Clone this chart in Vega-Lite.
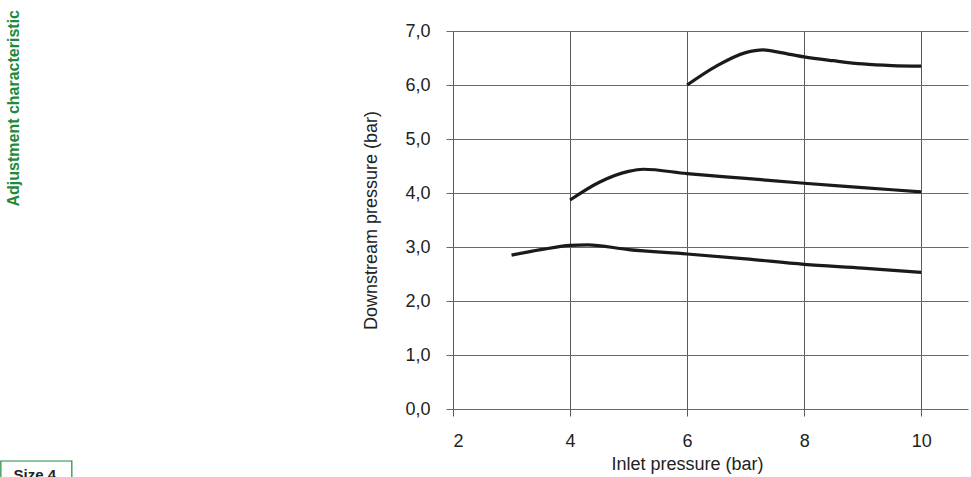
{
  "$schema": "https://vega.github.io/schema/vega-lite/v6.json",
  "autosize": "none",
  "width": 515,
  "height": 378,
  "padding": {"left": 453, "top": 31, "right": 3, "bottom": 68},
  "background": "white",
  "config": {
    "font": "Liberation Sans",
    "view": {"stroke": null}
  },
  "title": {
    "text": "Adjustment characteristic",
    "orient": "left",
    "anchor": "end",
    "frame": "group",
    "offset": -22,
    "dx": 21,
    "fontSize": 16,
    "fontWeight": "bold",
    "color": "#1e8a3c",
    "font": "Liberation Sans"
  },
  "data": {
    "values": [
      {"inlet": 3.0, "downstream": 2.85, "setting": "low"},
      {"inlet": 3.5, "downstream": 2.95, "setting": "low"},
      {"inlet": 4.0, "downstream": 3.03, "setting": "low"},
      {"inlet": 4.3, "downstream": 3.04, "setting": "low"},
      {"inlet": 5.0, "downstream": 2.95, "setting": "low"},
      {"inlet": 6.0, "downstream": 2.87, "setting": "low"},
      {"inlet": 7.0, "downstream": 2.78, "setting": "low"},
      {"inlet": 8.0, "downstream": 2.68, "setting": "low"},
      {"inlet": 9.0, "downstream": 2.61, "setting": "low"},
      {"inlet": 10.0, "downstream": 2.53, "setting": "low"},
      {"inlet": 4.0, "downstream": 3.87, "setting": "mid"},
      {"inlet": 4.5, "downstream": 4.2, "setting": "mid"},
      {"inlet": 5.0, "downstream": 4.4, "setting": "mid"},
      {"inlet": 5.25, "downstream": 4.44, "setting": "mid"},
      {"inlet": 6.0, "downstream": 4.36, "setting": "mid"},
      {"inlet": 7.0, "downstream": 4.27, "setting": "mid"},
      {"inlet": 8.0, "downstream": 4.18, "setting": "mid"},
      {"inlet": 9.0, "downstream": 4.1, "setting": "mid"},
      {"inlet": 10.0, "downstream": 4.02, "setting": "mid"},
      {"inlet": 6.0, "downstream": 6.0, "setting": "high"},
      {"inlet": 6.5, "downstream": 6.35, "setting": "high"},
      {"inlet": 7.0, "downstream": 6.6, "setting": "high"},
      {"inlet": 7.3, "downstream": 6.65, "setting": "high"},
      {"inlet": 7.6, "downstream": 6.6, "setting": "high"},
      {"inlet": 8.0, "downstream": 6.52, "setting": "high"},
      {"inlet": 8.5, "downstream": 6.45, "setting": "high"},
      {"inlet": 9.0, "downstream": 6.39, "setting": "high"},
      {"inlet": 9.5, "downstream": 6.36, "setting": "high"},
      {"inlet": 10.0, "downstream": 6.35, "setting": "high"}
    ]
  },
  "layer": [
    {
      "mark": {"type": "line", "interpolate": "monotone", "color": "#1a1a1a", "strokeWidth": 3.2},
      "encoding": {
        "x": {
          "field": "inlet",
          "type": "quantitative",
          "scale": {"domain": [2, 10.8], "nice": false, "zero": false},
          "axis": {
            "title": "Inlet pressure (bar)",
            "values": [2, 4, 6, 8, 10],
            "format": "d",
            "domain": false,
            "grid": true,
            "gridColor": "#5a5a5a",
            "gridOpacity": 1,
            "tickColor": "#5a5a5a",
            "tickSize": 7,
            "labelFontSize": 18,
            "labelColor": "#222",
            "labelPadding": 16,
            "titleFontSize": 18,
            "titleFontWeight": "normal",
            "titleColor": "#222",
            "titlePadding": 5,
            "titleX": 234
          }
        },
        "y": {
          "field": "downstream",
          "type": "quantitative",
          "scale": {"domain": [0, 7], "nice": false},
          "axis": {
            "title": "Downstream pressure (bar)",
            "values": [0, 1, 2, 3, 4, 5, 6, 7],
            "labelExpr": "replace(format(datum.value, '.1f'), '.', ',')",
            "domain": false,
            "grid": true,
            "gridColor": "#6a6a6a",
            "gridOpacity": 1,
            "tickColor": "#6a6a6a",
            "tickSize": 7,
            "labelFontSize": 18,
            "labelColor": "#222",
            "labelPadding": 16,
            "titleFontSize": 18,
            "titleFontWeight": "normal",
            "titleColor": "#222",
            "titlePadding": 24
          }
        },
        "detail": {"field": "setting"}
      }
    },
    {
      "data": {"values": [{"label": "Size 4"}]},
      "mark": {"type": "rect", "fill": null, "stroke": "#1e8a3c", "strokeWidth": 1.2, "clip": false},
      "encoding": {
        "x": {"datum": -5.726, "type": "quantitative"},
        "x2": {"datum": -4.513},
        "y": {"datum": -0.963, "type": "quantitative"},
        "y2": {"datum": -1.5}
      }
    },
    {
      "data": {"values": [{"label": "Size 4"}]},
      "mark": {"type": "text", "fontSize": 15, "fontWeight": "bold", "color": "#222", "align": "center", "baseline": "alphabetic", "clip": false},
      "encoding": {
        "x": {"datum": -5.145, "type": "quantitative"},
        "y": {"datum": -1.315, "type": "quantitative"},
        "text": {"field": "label"}
      }
    }
  ]
}
